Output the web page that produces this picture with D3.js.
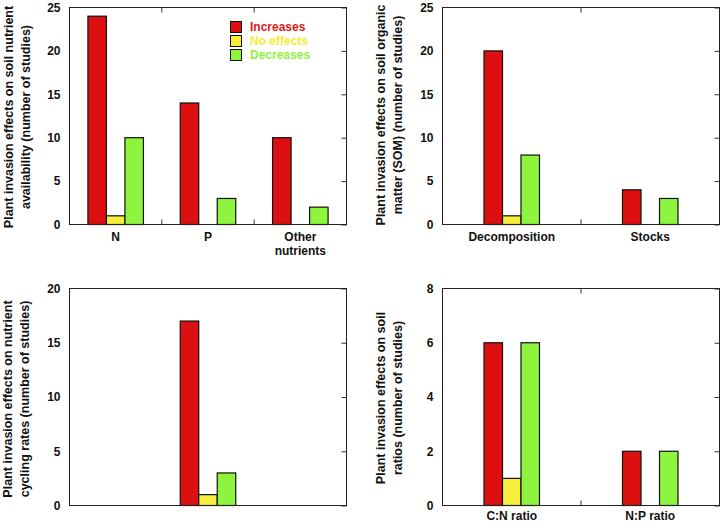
<!DOCTYPE html>
<html>
<head>
  <meta charset="utf-8">
  <title>Plant invasion effects</title>
  <style>
    body { margin: 0; background: #fff; }
    text { font-family: "Liberation Sans", Arial, sans-serif; font-weight: bold; }
  </style>
</head>
<body>
  <svg id="chart"></svg>

  <script src="https://d3js.org/d3.v7.min.js"></script>
  <script>
    // Dữ liệu cho 4 biểu đồ
    const series = ["Increases", "No effects", "Decreases"];
    const colors = ["#dc1010", "#f7ee3c", "#8ef43e"];
    const textColors = ["#e01818", "#fbe934", "#8ef43e"];

    const categoriesA = ["N", "P", "Other nutrients"];
    const increasesA = [24, 14, 10];
    const noEffectsA = [1, 0, 0];
    const decreasesA = [10, 3, 2];
    const ticksA = [0, 5, 10, 15, 20, 25];

    const categoriesB = ["Decomposition", "Stocks"];
    const increasesB = [20, 4];
    const noEffectsB = [1, 0];
    const decreasesB = [8, 3];
    const ticksB = [0, 5, 10, 15, 20, 25];

    const categoriesC = [""];
    const increasesC = [17];
    const noEffectsC = [1];
    const decreasesC = [3];
    const ticksC = [0, 5, 10, 15, 20];

    const categoriesD = ["C:N ratio", "N:P ratio"];
    const increasesD = [6, 2];
    const noEffectsD = [1, 0];
    const decreasesD = [6, 2];
    const ticksD = [0, 2, 4, 6, 8];

    const width = 722;
    const height = 522;

    const svg = d3.select("#chart")
      .attr("width", width)
      .attr("height", height);

    const panels = [
      { cats: categoriesA, vals: [increasesA, noEffectsA, decreasesA], ticks: ticksA,
        x0: 69.5, x1: 346.5, y0: 7.5, y1: 224.5, labX: 9, labY: 117, xlabDy: 16,
        label: ["Plant invasion effects on soil nutrient", "availability (number of studies)"] },
      { cats: categoriesB, vals: [increasesB, noEffectsB, decreasesB], ticks: ticksB,
        x0: 442.5, x1: 719.5, y0: 7.5, y1: 224.5, labX: 381, labY: 115, xlabDy: 16,
        label: ["Plant invasion effects on soil organic", "matter (SOM) (number of studies)"] },
      { cats: categoriesC, vals: [increasesC, noEffectsC, decreasesC], ticks: ticksC,
        x0: 69.5, x1: 346.5, y0: 288.5, y1: 505.5, labX: 8, labY: 399, xlabDy: 14.5,
        label: ["Plant invasion effects on nutrient", "cycling rates (number of studies)"] },
      { cats: categoriesD, vals: [increasesD, noEffectsD, decreasesD], ticks: ticksD,
        x0: 442.5, x1: 719.5, y0: 288.5, y1: 505.5, labX: 381, labY: 398, xlabDy: 14.5,
        label: ["Plant invasion effects on soil", "ratios (number of studies)"] }
    ];

    const barW = 18.5;

    panels.forEach(p => {
      const g = svg.append("g");

      const x = d3.scaleBand()
        .domain(p.cats)
        .range([p.x0, p.x1]);

      const inner = d3.scaleBand()
        .domain(series)
        .range([-barW * 1.5, barW * 1.5]);

      const y = d3.scaleLinear()
        .domain([0, d3.max(p.ticks)])
        .range([p.y1, p.y0]);

      // Cột
      const bars = [];
      p.cats.forEach((c, i) => {
        series.forEach((s, j) => {
          if (p.vals[j][i] > 0) bars.push({ cat: c, s: s, j: j, v: p.vals[j][i] });
        });
      });

      g.selectAll(".bar")
        .data(bars)
        .enter().append("rect")
        .attr("class", "bar")
        .attr("x", d => x(d.cat) + x.bandwidth() / 2 + inner(d.s))
        .attr("y", d => y(d.v))
        .attr("width", inner.bandwidth())
        .attr("height", d => y(0) - y(d.v))
        .attr("fill", d => colors[d.j])
        .attr("stroke", "#111")
        .attr("stroke-width", 1.2);

      // Trục Y bên trái (chỉ nhãn)
      const yl = g.append("g")
        .attr("transform", `translate(${p.x0},0)`)
        .call(d3.axisLeft(y).tickValues(p.ticks).tickSize(0).tickPadding(9));
      yl.select(".domain").remove();
      yl.selectAll("text")
        .style("font-size", "12px")
        .style("font-family", "Liberation Sans, Arial, sans-serif")
        .style("font-weight", "bold")
        .attr("fill", "#111");

      // Vạch chia bên phải, hướng vào trong
      const yr = g.append("g")
        .attr("transform", `translate(${p.x1},0)`)
        .call(d3.axisLeft(y).tickValues(p.ticks).tickSize(5).tickFormat(""));
      yr.select(".domain").remove();
      yr.selectAll("line").attr("stroke", "#333");

      // Vạch ranh giới nhóm trên và dưới
      const bounds = p.cats.slice(1).map(c => x(c));
      bounds.forEach(bx => {
        g.append("line").attr("x1", bx).attr("x2", bx)
          .attr("y1", p.y0).attr("y2", p.y0 + 5).attr("stroke", "#333");
        g.append("line").attr("x1", bx).attr("x2", bx)
          .attr("y1", p.y1).attr("y2", p.y1 - 5).attr("stroke", "#333");
      });

      // Khung
      g.append("rect")
        .attr("x", p.x0).attr("y", p.y0)
        .attr("width", p.x1 - p.x0).attr("height", p.y1 - p.y0)
        .attr("fill", "none")
        .attr("stroke", "#222")
        .attr("stroke-width", 1);

      // Nhãn trục X
      p.cats.forEach(c => {
        if (!c) return;
        const words = c === "Other nutrients" ? ["Other", "nutrients"] : [c];
        const t = g.append("text")
          .attr("x", x(c) + x.bandwidth() / 2)
          .attr("y", p.y1 + p.xlabDy)
          .attr("text-anchor", "middle")
          .attr("font-size", 12)
          .attr("fill", "#111");
        words.forEach((w, k) => {
          t.append("tspan")
            .attr("x", x(c) + x.bandwidth() / 2)
            .attr("dy", k === 0 ? 0 : 14)
            .text(w);
        });
      });

      // Nhãn trục Y
      p.label.forEach((line, k) => {
        g.append("text")
          .attr("transform", `translate(${p.labX + k * 17},${p.labY}) rotate(-90)`)
          .attr("text-anchor", "middle")
          .attr("dominant-baseline", "central")
          .attr("font-size", 12.5)
          .attr("fill", "#111")
          .text(line);
      });
    });

    // Chú giải
    const legend = svg.append("g");
    series.forEach((s, i) => {
      legend.append("rect")
        .attr("x", 230.5).attr("y", 21.5 + i * 14)
        .attr("width", 11).attr("height", 11)
        .attr("fill", colors[i])
        .attr("stroke", "#111");
      legend.append("text")
        .attr("x", 250)
        .attr("y", 27 + i * 14)
        .attr("dominant-baseline", "central")
        .attr("font-size", 12)
        .attr("fill", textColors[i])
        .text(s);
    });
  </script>
</body>
</html>
